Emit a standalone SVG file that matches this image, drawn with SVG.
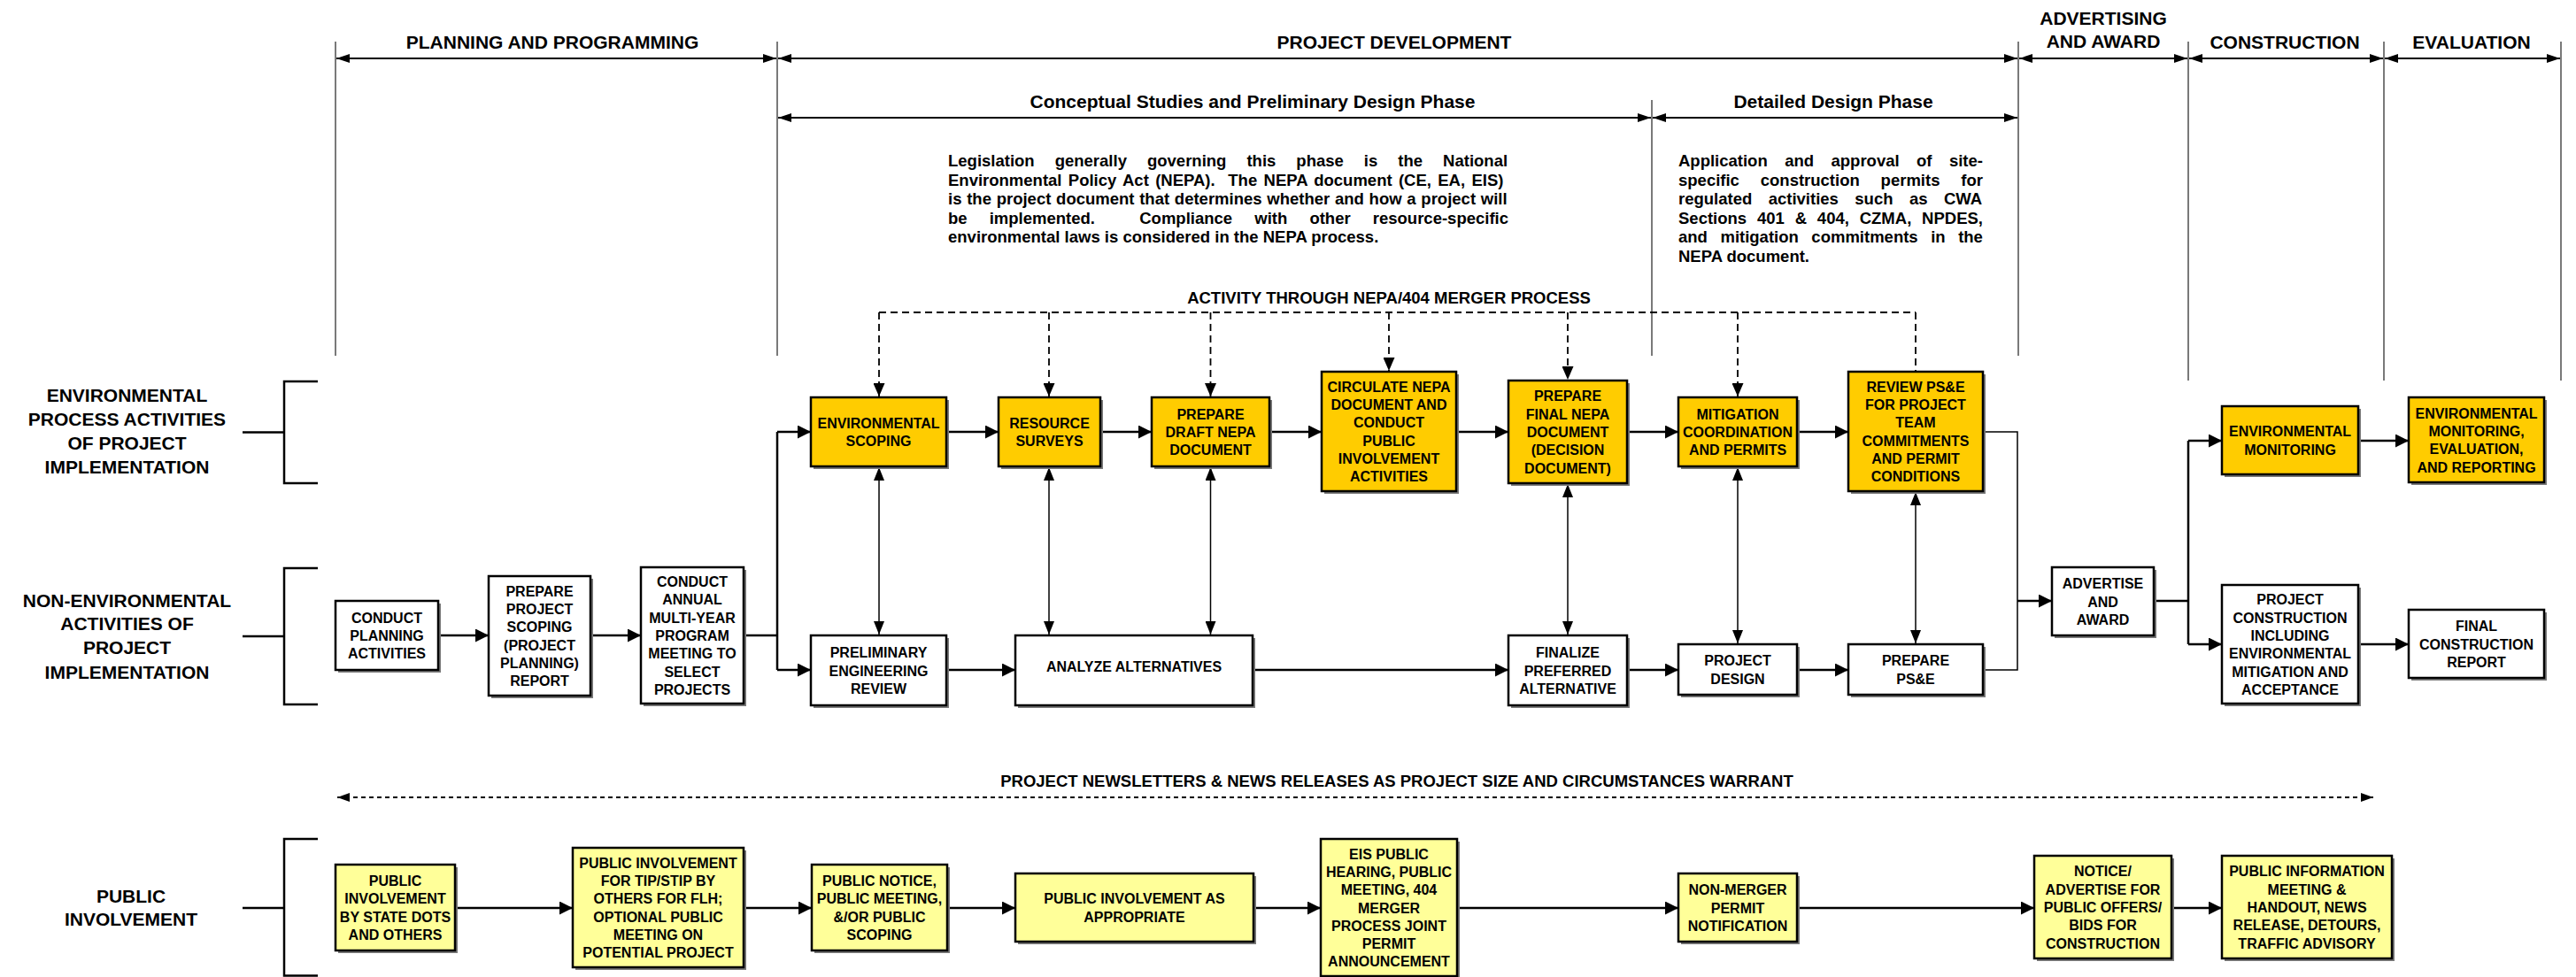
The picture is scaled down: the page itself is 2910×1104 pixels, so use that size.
<svg xmlns="http://www.w3.org/2000/svg" width="2910" height="1104" viewBox="0 0 2910 1104">
<style>
text{font-family:"Liberation Sans",Arial,Helvetica,sans-serif;font-weight:bold;fill:#000}
.hd{font-size:21px;text-anchor:middle}
.par{font-size:18.5px}
.mid{font-size:18.5px;text-anchor:middle}
.nd text{font-size:16px;text-anchor:middle}
.o{fill:#FFCC00;stroke:#000;stroke-width:2.5}
.w{fill:#FFFFFF;stroke:#000;stroke-width:2.5}
.y{fill:#FFFF99;stroke:#000;stroke-width:2.5}
.sh{fill:#7a7a7a}
.c{fill:none;stroke:#000;stroke-width:2.5}
.t{fill:none;stroke:#000;stroke-width:1.5}
.ds{fill:none;stroke:#000;stroke-width:1.8;stroke-dasharray:8 5}
.dt{fill:none;stroke:#000;stroke-width:2;stroke-dasharray:5 4}
.vl{fill:none;stroke:#222;stroke-width:1.2}
.hl{fill:none;stroke:#000;stroke-width:1.8}
.br{fill:none;stroke:#000;stroke-width:2.5}
</style>
<defs>
<marker id="a" viewBox="0 0 15 15" refX="15" refY="7.5" markerWidth="15" markerHeight="15" markerUnits="userSpaceOnUse" orient="auto-start-reverse"><path d="M0,0L15,7.5L0,15z" fill="#000"/></marker>
<marker id="h" viewBox="0 0 15 10" refX="15" refY="5" markerWidth="15" markerHeight="10" markerUnits="userSpaceOnUse" orient="auto-start-reverse"><path d="M0,0L15,5L0,10z" fill="#000"/></marker>
<marker id="v" viewBox="0 0 15 12" refX="15" refY="6" markerWidth="15" markerHeight="12" markerUnits="userSpaceOnUse" orient="auto-start-reverse"><path d="M0,0L15,6L0,12z" fill="#000"/></marker>
<marker id="d" viewBox="0 0 15 13" refX="15" refY="6.5" markerWidth="15" markerHeight="13" markerUnits="userSpaceOnUse" orient="auto-start-reverse"><path d="M0,0L15,6.5L0,13z" fill="#000"/></marker>
<marker id="n" viewBox="0 0 14 10" refX="14" refY="5" markerWidth="14" markerHeight="10" markerUnits="userSpaceOnUse" orient="auto-start-reverse"><path d="M0,0L14,5L0,10z" fill="#000"/></marker>
</defs>
<rect x="0" y="0" width="2910" height="1104" fill="#fff"/>

<g id="phases">
<path class="vl" d="M379,47V402M878,47V402M1866,113V402M2280,47V402M2472,47V430M2693,47V430M2893,47V430"/>
<path class="hl" d="M380,66H877" marker-start="url(#h)" marker-end="url(#h)"/>
<path class="hl" d="M879,66H2279" marker-start="url(#h)" marker-end="url(#h)"/>
<path class="hl" d="M2281,66H2471" marker-start="url(#h)" marker-end="url(#h)"/>
<path class="hl" d="M2473,66H2692" marker-start="url(#h)" marker-end="url(#h)"/>
<path class="hl" d="M2694,66H2892" marker-start="url(#h)" marker-end="url(#h)"/>
<path class="hl" d="M879,133H1865" marker-start="url(#h)" marker-end="url(#h)"/>
<path class="hl" d="M1867,133H2279" marker-start="url(#h)" marker-end="url(#h)"/>
<text class="hd" x="624" y="55">PLANNING AND PROGRAMMING</text>
<text class="hd" x="1575" y="55">PROJECT DEVELOPMENT</text>
<text class="hd" x="2376" y="27.5">ADVERTISING</text>
<text class="hd" x="2376" y="53.5">AND AWARD</text>
<text class="hd" x="2581" y="55">CONSTRUCTION</text>
<text class="hd" x="2792" y="55">EVALUATION</text>
<text class="hd" x="1415" y="122">Conceptual Studies and Preliminary Design Phase</text>
<text class="hd" x="2071" y="122">Detailed Design Phase</text>
</g>

<g id="notes">
<text class="par" x="1071" y="188" word-spacing="17.9">Legislation generally governing this phase is the National</text>
<text class="par" x="1071" y="209.6" word-spacing="2.2">Environmental Policy Act (NEPA).&#160; The NEPA document (CE, EA, EIS)</text>
<text class="par" x="1071" y="231.2" word-spacing="0.6">is the project document that determines whether and how a project will</text>
<text class="par" x="1071" y="252.8" word-spacing="20">be implemented.&#160; Compliance with other resource-specific</text>
<text class="par" x="1071" y="274.4">environmental laws is considered in the NEPA process.</text>
<text class="par" x="1896" y="188" word-spacing="14.3">Application and approval of site-</text>
<text class="par" x="1896" y="209.6" word-spacing="18.7">specific construction permits for</text>
<text class="par" x="1896" y="231.2" word-spacing="13.3">regulated activities such as CWA</text>
<text class="par" x="1896" y="252.8" word-spacing="6.7">Sections 401 &amp; 404, CZMA, NPDES,</text>
<text class="par" x="1896" y="274.4" word-spacing="9.4">and mitigation commitments in the</text>
<text class="par" x="1896" y="296">NEPA document.</text>
<text class="mid" x="1569" y="342.5">ACTIVITY THROUGH NEPA/404 MERGER PROCESS</text>
<text class="mid" x="1578" y="889">PROJECT NEWSLETTERS &amp; NEWS RELEASES AS PROJECT SIZE AND CIRCUMSTANCES WARRANT</text>
</g>

<g id="lanes">
<path class="br" d="M359,431H321V546H359M274,488.5H321"/>
<path class="br" d="M359,642H321V796H359M274,719H321"/>
<path class="br" d="M359,948H321V1102.5H359M274,1026H321"/>
<text class="hd" x="143.5" y="454">ENVIRONMENTAL</text>
<text class="hd" x="143.5" y="481">PROCESS ACTIVITIES</text>
<text class="hd" x="143.5" y="507.7">OF PROJECT</text>
<text class="hd" x="143.5" y="535">IMPLEMENTATION</text>
<text class="hd" x="143.5" y="685.7">NON-ENVIRONMENTAL</text>
<text class="hd" x="143.5" y="712">ACTIVITIES OF</text>
<text class="hd" x="143.5" y="739">PROJECT</text>
<text class="hd" x="143.5" y="766.5">IMPLEMENTATION</text>
<text class="hd" x="148" y="1020">PUBLIC</text>
<text class="hd" x="148" y="1045.5">INVOLVEMENT</text>
</g>

<g id="connectors">
<path class="c" d="M495,718H552" marker-end="url(#a)"/>
<path class="c" d="M667,718H724" marker-end="url(#a)"/>
<path class="c" d="M840,718H878M878,488V757"/>
<path class="c" d="M878,488H916" marker-end="url(#a)"/>
<path class="c" d="M878,757H916" marker-end="url(#a)"/>
<path class="c" d="M1069,488H1128" marker-end="url(#a)"/>
<path class="c" d="M1243,488H1301" marker-end="url(#a)"/>
<path class="c" d="M1434,488H1493" marker-end="url(#a)"/>
<path class="c" d="M1645,488H1704" marker-end="url(#a)"/>
<path class="c" d="M1838,488H1896" marker-end="url(#a)"/>
<path class="c" d="M2030,488H2088" marker-end="url(#a)"/>
<path class="c" d="M1069,757H1147" marker-end="url(#a)"/>
<path class="c" d="M1415,757H1704" marker-end="url(#a)"/>
<path class="c" d="M1838,757H1896" marker-end="url(#a)"/>
<path class="c" d="M2030,757H2088" marker-end="url(#a)"/>
<path class="t" d="M2240,488H2279V757H2240"/>
<path class="c" d="M2279,679H2318" marker-end="url(#a)"/>
<path class="c" d="M2433,679H2472M2472,498V728"/>
<path class="c" d="M2472,498H2510" marker-end="url(#a)"/>
<path class="c" d="M2472,728H2510" marker-end="url(#a)"/>
<path class="c" d="M2664,498H2721" marker-end="url(#a)"/>
<path class="c" d="M2664,728H2721" marker-end="url(#a)"/>
<path class="t" d="M993,528V717" marker-start="url(#v)" marker-end="url(#v)"/>
<path class="t" d="M1185,528V717" marker-start="url(#v)" marker-end="url(#v)"/>
<path class="t" d="M1367.5,528V717" marker-start="url(#v)" marker-end="url(#v)"/>
<path class="t" d="M1771,547V717" marker-start="url(#v)" marker-end="url(#v)"/>
<path class="t" d="M1963,528V727" marker-start="url(#v)" marker-end="url(#v)"/>
<path class="t" d="M2164,556V727" marker-start="url(#v)" marker-end="url(#v)"/>
<path class="ds" d="M993,353H2164"/>
<path class="ds" d="M993,353V448" marker-end="url(#d)"/>
<path class="ds" d="M1185,353V448" marker-end="url(#d)"/>
<path class="ds" d="M1367.5,353V448" marker-end="url(#d)"/>
<path class="ds" d="M1569,353V419" marker-end="url(#d)"/>
<path class="ds" d="M1771,353V429" marker-end="url(#d)"/>
<path class="ds" d="M1963,353V448" marker-end="url(#d)"/>
<path class="ds" d="M2164,353V419"/>
<path class="dt" d="M381,901H2681" marker-start="url(#n)" marker-end="url(#n)"/>
<path class="c" d="M514,1026H647" marker-end="url(#a)"/>
<path class="c" d="M840,1026H917" marker-end="url(#a)"/>
<path class="c" d="M1070,1026H1147" marker-end="url(#a)"/>
<path class="c" d="M1416,1026H1492" marker-end="url(#a)"/>
<path class="c" d="M1646,1026H1896" marker-end="url(#a)"/>
<path class="c" d="M2030,1026H2298" marker-end="url(#a)"/>
<path class="c" d="M2453,1026H2510" marker-end="url(#a)"/>
</g>

<g id="nodes">
<g id="env_scoping" class="nd"><rect class="sh" x="919" y="452" width="153" height="78"/><rect class="o" x="916" y="449" width="153" height="78"/>
<text x="992.5" y="484" textLength="138" lengthAdjust="spacingAndGlyphs">ENVIRONMENTAL</text><text x="992.5" y="504">SCOPING</text></g>
<g id="resource_surveys" class="nd"><rect class="sh" x="1131" y="452" width="115" height="78"/><rect class="o" x="1128" y="449" width="115" height="78"/>
<text x="1185.5" y="484">RESOURCE</text><text x="1185.5" y="504">SURVEYS</text></g>
<g id="draft_nepa" class="nd"><rect class="sh" x="1304" y="452" width="133" height="78"/><rect class="o" x="1301" y="449" width="133" height="78"/>
<text x="1367.5" y="473.7">PREPARE</text><text x="1367.5" y="494">DRAFT NEPA</text><text x="1367.5" y="514.3">DOCUMENT</text></g>
<g id="circulate_nepa" class="nd"><rect class="sh" x="1496" y="423" width="152" height="135"/><rect class="o" x="1493" y="420" width="152" height="135"/>
<text x="1569" y="442.8">CIRCULATE NEPA</text><text x="1569" y="463.1">DOCUMENT AND</text><text x="1569" y="483.4">CONDUCT</text><text x="1569" y="503.7">PUBLIC</text><text x="1569" y="524">INVOLVEMENT</text><text x="1569" y="544.3">ACTIVITIES</text></g>
<g id="final_nepa" class="nd"><rect class="sh" x="1707" y="433" width="134" height="116"/><rect class="o" x="1704" y="430" width="134" height="116"/>
<text x="1771" y="453.4">PREPARE</text><text x="1771" y="473.7">FINAL NEPA</text><text x="1771" y="494">DOCUMENT</text><text x="1771" y="514.3">(DECISION</text><text x="1771" y="534.6">DOCUMENT)</text></g>
<g id="mitigation_permits" class="nd"><rect class="sh" x="1899" y="452" width="134" height="78"/><rect class="o" x="1896" y="449" width="134" height="78"/>
<text x="1963" y="473.7">MITIGATION</text><text x="1963" y="494">COORDINATION</text><text x="1963" y="514.3">AND PERMITS</text></g>
<g id="review_pse" class="nd"><rect class="sh" x="2091" y="423" width="152" height="135"/><rect class="o" x="2088" y="420" width="152" height="135"/>
<text x="2164" y="442.8">REVIEW PS&amp;E</text><text x="2164" y="463.1">FOR PROJECT</text><text x="2164" y="483.4">TEAM</text><text x="2164" y="503.7">COMMITMENTS</text><text x="2164" y="524">AND PERMIT</text><text x="2164" y="544.3">CONDITIONS</text></g>
<g id="env_monitoring" class="nd"><rect class="sh" x="2513" y="462" width="154" height="77"/><rect class="o" x="2510" y="459" width="154" height="77"/>
<text x="2587" y="493.4" textLength="138" lengthAdjust="spacingAndGlyphs">ENVIRONMENTAL</text><text x="2587" y="513.7">MONITORING</text></g>
<g id="env_evaluation" class="nd"><rect class="sh" x="2724" y="452" width="153" height="96"/><rect class="o" x="2721" y="449" width="153" height="96"/>
<text x="2797.5" y="472.6" textLength="138" lengthAdjust="spacingAndGlyphs">ENVIRONMENTAL</text><text x="2797.5" y="492.9">MONITORING,</text><text x="2797.5" y="513.2">EVALUATION,</text><text x="2797.5" y="533.5">AND REPORTING</text></g>

<g id="conduct_planning" class="nd"><rect class="sh" x="382" y="682" width="116" height="78"/><rect class="w" x="379" y="679" width="116" height="78"/>
<text x="437" y="703.7">CONDUCT</text><text x="437" y="724">PLANNING</text><text x="437" y="744.3">ACTIVITIES</text></g>
<g id="scoping_report" class="nd"><rect class="sh" x="555" y="654" width="115" height="135"/><rect class="w" x="552" y="651" width="115" height="135"/>
<text x="609.5" y="673.8">PREPARE</text><text x="609.5" y="694.1">PROJECT</text><text x="609.5" y="714.4">SCOPING</text><text x="609.5" y="734.7">(PROJECT</text><text x="609.5" y="755">PLANNING)</text><text x="609.5" y="775.3">REPORT</text></g>
<g id="annual_program" class="nd"><rect class="sh" x="727" y="644" width="116" height="154"/><rect class="w" x="724" y="641" width="116" height="154"/>
<text x="782" y="663.1">CONDUCT</text><text x="782" y="683.4">ANNUAL</text><text x="782" y="703.7">MULTI-YEAR</text><text x="782" y="724">PROGRAM</text><text x="782" y="744.3">MEETING TO</text><text x="782" y="764.6">SELECT</text><text x="782" y="784.9">PROJECTS</text></g>
<g id="prelim_engineering" class="nd"><rect class="sh" x="919" y="721" width="153" height="79"/><rect class="w" x="916" y="718" width="153" height="79"/>
<text x="992.5" y="743.2">PRELIMINARY</text><text x="992.5" y="763.5">ENGINEERING</text><text x="992.5" y="783.8">REVIEW</text></g>
<g id="analyze_alternatives" class="nd"><rect class="sh" x="1150" y="721" width="268" height="79"/><rect class="w" x="1147" y="718" width="268" height="79"/>
<text x="1281" y="759">ANALYZE ALTERNATIVES</text></g>
<g id="finalize_preferred" class="nd"><rect class="sh" x="1707" y="721" width="134" height="79"/><rect class="w" x="1704" y="718" width="134" height="79"/>
<text x="1771" y="743.2">FINALIZE</text><text x="1771" y="763.5">PREFERRED</text><text x="1771" y="783.8">ALTERNATIVE</text></g>
<g id="project_design" class="nd"><rect class="sh" x="1899" y="731" width="134" height="57"/><rect class="w" x="1896" y="728" width="134" height="57"/>
<text x="1963" y="752.4">PROJECT</text><text x="1963" y="772.7">DESIGN</text></g>
<g id="prepare_pse" class="nd"><rect class="sh" x="2091" y="731" width="152" height="57"/><rect class="w" x="2088" y="728" width="152" height="57"/>
<text x="2164" y="752.4">PREPARE</text><text x="2164" y="772.7">PS&amp;E</text></g>
<g id="advertise_award" class="nd"><rect class="sh" x="2321" y="644" width="115" height="77"/><rect class="w" x="2318" y="641" width="115" height="77"/>
<text x="2375.5" y="665.2">ADVERTISE</text><text x="2375.5" y="685.5">AND</text><text x="2375.5" y="705.8">AWARD</text></g>
<g id="project_construction" class="nd"><rect class="sh" x="2513" y="664" width="154" height="134"/><rect class="w" x="2510" y="661" width="154" height="134"/>
<text x="2587" y="683.3">PROJECT</text><text x="2587" y="703.6">CONSTRUCTION</text><text x="2587" y="723.9">INCLUDING</text><text x="2587" y="744.2" textLength="138" lengthAdjust="spacingAndGlyphs">ENVIRONMENTAL</text><text x="2587" y="764.5">MITIGATION AND</text><text x="2587" y="784.8">ACCEPTANCE</text></g>
<g id="final_report" class="nd"><rect class="sh" x="2724" y="692" width="153" height="77"/><rect class="w" x="2721" y="689" width="153" height="77"/>
<text x="2797.5" y="713.2">FINAL</text><text x="2797.5" y="733.5">CONSTRUCTION</text><text x="2797.5" y="753.8">REPORT</text></g>

<g id="pi_state" class="nd"><rect class="sh" x="382" y="980" width="135" height="97"/><rect class="y" x="379" y="977" width="135" height="97"/>
<text x="446.5" y="1001">PUBLIC</text><text x="446.5" y="1021.3">INVOLVEMENT</text><text x="446.5" y="1041.6">BY STATE DOTS</text><text x="446.5" y="1061.9">AND OTHERS</text></g>
<g id="pi_tip" class="nd"><rect class="sh" x="650" y="961" width="193" height="135"/><rect class="y" x="647" y="958" width="193" height="135"/>
<text x="743.5" y="980.8">PUBLIC INVOLVEMENT</text><text x="743.5" y="1001.1">FOR TIP/STIP BY</text><text x="743.5" y="1021.4">OTHERS FOR FLH;</text><text x="743.5" y="1041.7">OPTIONAL PUBLIC</text><text x="743.5" y="1062">MEETING ON</text><text x="743.5" y="1082.3">POTENTIAL PROJECT</text></g>
<g id="pi_notice" class="nd"><rect class="sh" x="920" y="980" width="153" height="97"/><rect class="y" x="917" y="977" width="153" height="97"/>
<text x="993.5" y="1001">PUBLIC NOTICE,</text><text x="993.5" y="1021.3">PUBLIC MEETING,</text><text x="993.5" y="1041.6">&amp;/OR PUBLIC</text><text x="993.5" y="1061.9">SCOPING</text></g>
<g id="pi_appropriate" class="nd"><rect class="sh" x="1150" y="990" width="269" height="77"/><rect class="y" x="1147" y="987" width="269" height="77"/>
<text x="1281.5" y="1021.3">PUBLIC INVOLVEMENT AS</text><text x="1281.5" y="1041.6">APPROPRIATE</text></g>
<g id="pi_eis" class="nd"><rect class="sh" x="1495" y="951" width="154" height="155"/><rect class="y" x="1492" y="948" width="154" height="155"/>
<text x="1569" y="970.6">EIS PUBLIC</text><text x="1569" y="990.9">HEARING, PUBLIC</text><text x="1569" y="1011.2">MEETING, 404</text><text x="1569" y="1031.5">MERGER</text><text x="1569" y="1051.8">PROCESS JOINT</text><text x="1569" y="1072.1">PERMIT</text><text x="1569" y="1092.4">ANNOUNCEMENT</text></g>
<g id="pi_nonmerger" class="nd"><rect class="sh" x="1899" y="990" width="134" height="77"/><rect class="y" x="1896" y="987" width="134" height="77"/>
<text x="1963" y="1011.2">NON-MERGER</text><text x="1963" y="1031.5">PERMIT</text><text x="1963" y="1051.8">NOTIFICATION</text></g>
<g id="pi_bids" class="nd"><rect class="sh" x="2301" y="970" width="155" height="116"/><rect class="y" x="2298" y="967" width="155" height="116"/>
<text x="2375.5" y="990.4">NOTICE/</text><text x="2375.5" y="1010.7">ADVERTISE FOR</text><text x="2375.5" y="1031">PUBLIC OFFERS/</text><text x="2375.5" y="1051.3">BIDS FOR</text><text x="2375.5" y="1071.6">CONSTRUCTION</text></g>
<g id="pi_info" class="nd"><rect class="sh" x="2513" y="970" width="192" height="116"/><rect class="y" x="2510" y="967" width="192" height="116"/>
<text x="2606" y="990.4">PUBLIC INFORMATION</text><text x="2606" y="1010.7">MEETING &amp;</text><text x="2606" y="1031">HANDOUT, NEWS</text><text x="2606" y="1051.3">RELEASE, DETOURS,</text><text x="2606" y="1071.6">TRAFFIC ADVISORY</text></g>
</g>
</svg>
